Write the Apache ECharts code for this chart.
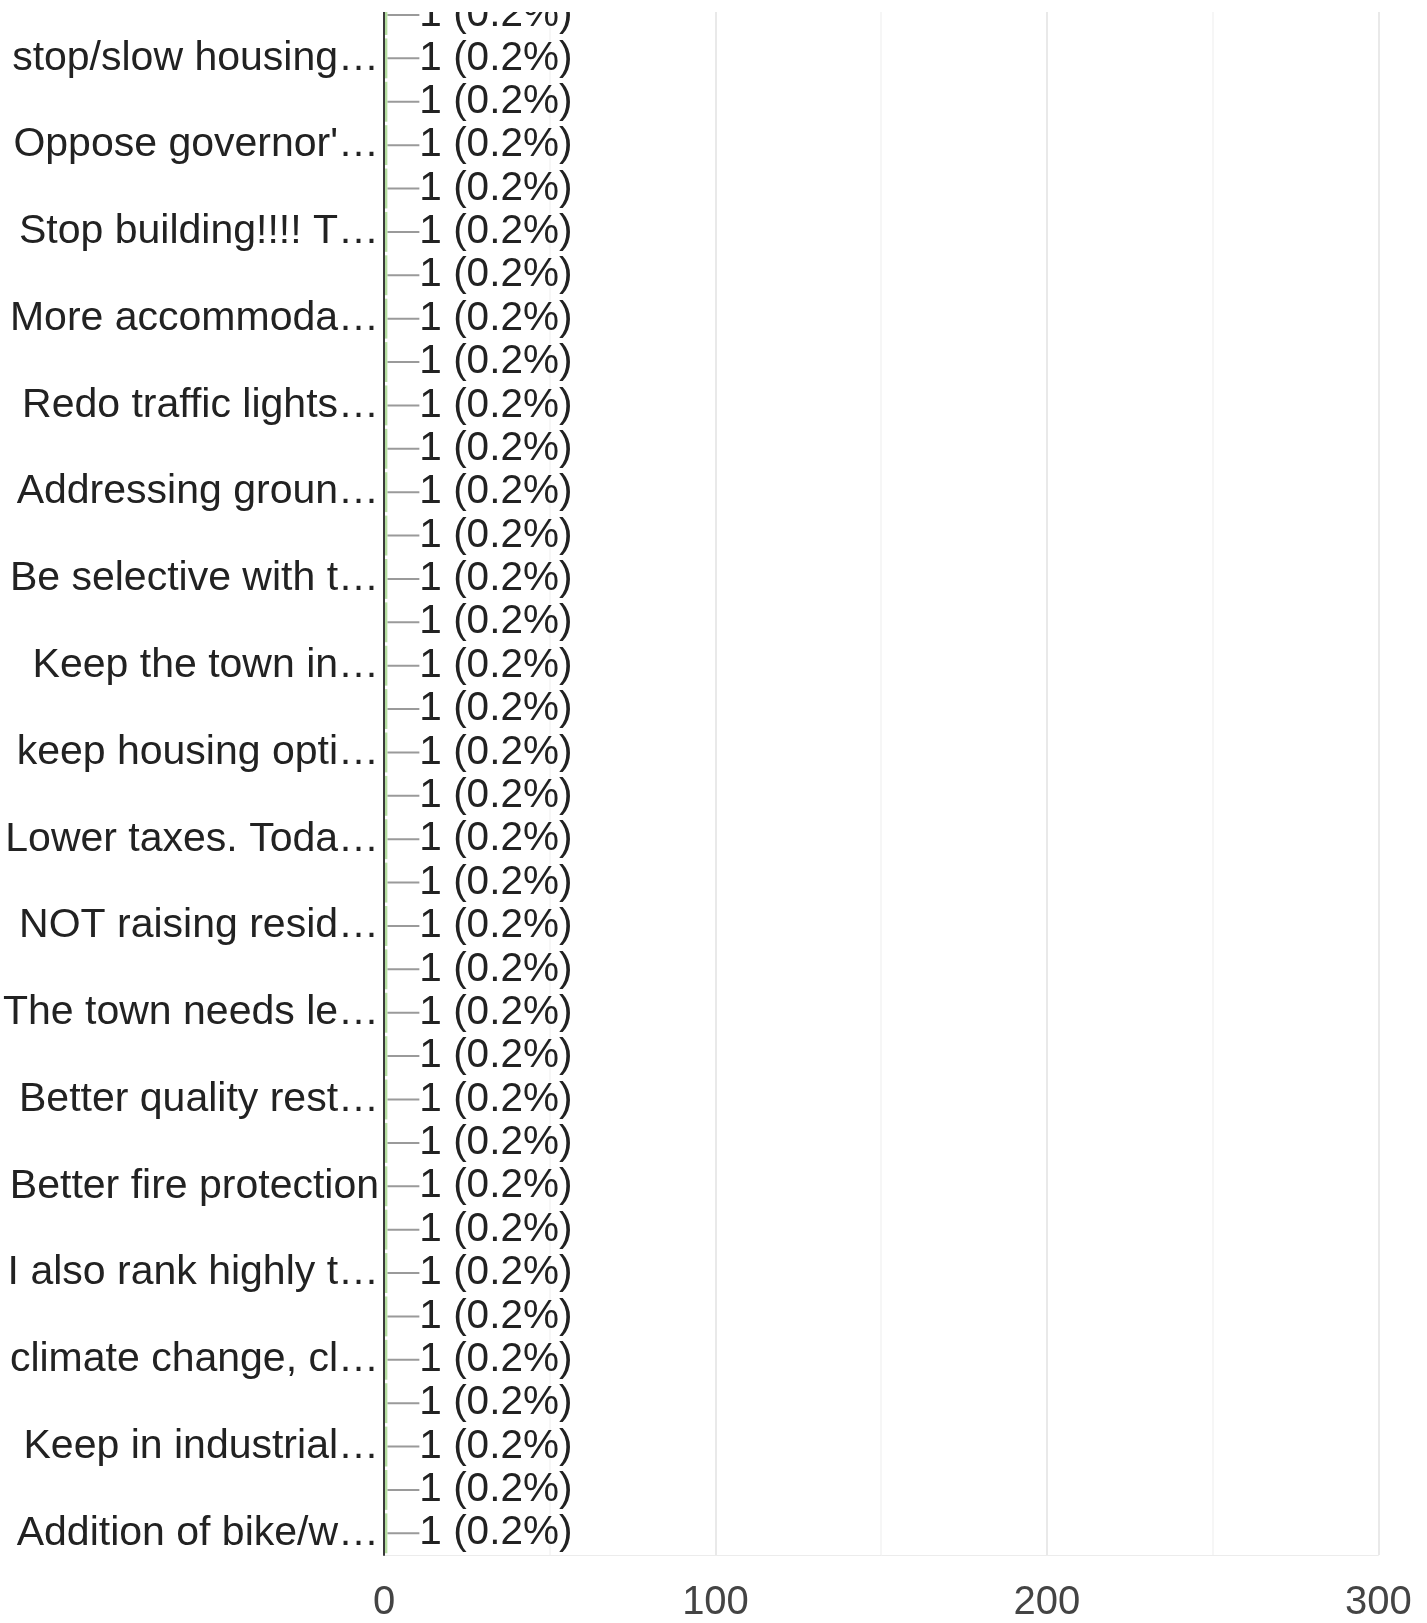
<!DOCTYPE html>
<html>
<head>
<meta charset="utf-8">
<script src="https://cdn.jsdelivr.net/npm/echarts@6/dist/echarts.min.js"></script>
<style>
  html, body { margin: 0; padding: 0; background: #fff; width: 1427px; height: 1623px; overflow: hidden; }
  #clip { position: absolute; left: 0; top: 12px; width: 1427px; height: 1611px; overflow: hidden; }
  #chart { position: absolute; left: 0; top: -30px; width: 1427px; height: 1641px; }
</style>
</head>
<body>
<div id="clip"><div id="chart"></div></div>
<script>
// Rows from top to bottom; only every other label is shown in the reference.
const categories = [
  'row 1', 'stop/slow housing…',
  'row 3', 'Oppose governor\'…',
  'row 5', 'Stop building!!!! T…',
  'row 7', 'More accommoda…',
  'row 9', 'Redo traffic lights…',
  'row 11', 'Addressing groun…',
  'row 13', 'Be selective with t…',
  'row 15', 'Keep the town in…',
  'row 17', 'keep housing opti…',
  'row 19', 'Lower taxes. Toda…',
  'row 21', 'NOT raising resid…',
  'row 23', 'The town needs le…',
  'row 25', 'Better quality rest…',
  'row 27', 'Better fire protection',
  'row 29', 'I also rank highly t…',
  'row 31', 'climate change, cl…',
  'row 33', 'Keep in industrial…',
  'row 35', 'Addition of bike/w…'
];
const counts = [
  1, 1, 1, 1, 1, 1, 1, 1, 1, 1, 1, 1,
  1, 1, 1, 1, 1, 1, 1, 1, 1, 1, 1, 1,
  1, 1, 1, 1, 1, 1, 1, 1, 1, 1, 1, 1
];
const percents = [
  0.2, 0.2, 0.2, 0.2, 0.2, 0.2, 0.2, 0.2, 0.2, 0.2, 0.2, 0.2,
  0.2, 0.2, 0.2, 0.2, 0.2, 0.2, 0.2, 0.2, 0.2, 0.2, 0.2, 0.2,
  0.2, 0.2, 0.2, 0.2, 0.2, 0.2, 0.2, 0.2, 0.2, 0.2, 0.2, 0.2
];
const xTicks = [0, 100, 200, 300];

const FONT = '"Liberation Sans", Arial, sans-serif';
const chart = echarts.init(document.getElementById('chart'), null, { renderer: 'canvas' });
chart.setOption({
  animation: false,
  backgroundColor: '#ffffff',
  grid: { left: 384, right: 48.6, top: 11.3, bottom: 68, containLabel: false },
  xAxis: {
    type: 'value',
    min: 0,
    max: 300,
    interval: 50,
    axisLine: { show: true, lineStyle: { color: '#ececec', width: 1 } },
    axisTick: { show: false },
    splitLine: { show: true, lineStyle: { color: ['#e2e2e2', '#f3f3f3'], width: 1.5 } },
    axisLabel: {
      margin: 28,
      fontSize: 40,
      fontFamily: FONT,
      color: '#444',
      formatter: function (v) { return xTicks.indexOf(v) >= 0 ? String(v) : ''; }
    }
  },
  yAxis: {
    type: 'category',
    inverse: true,
    data: categories,
    axisLine: { show: true, lineStyle: { color: '#3a3a3a', width: 2 } },
    axisTick: { show: false },
    axisLabel: {
      interval: function (i) { return i % 2 === 1; },
      margin: 5,
      fontSize: 41,
      fontFamily: FONT,
      color: '#222'
    },
    z: 5
  },
  series: [{
    type: 'bar',
    data: counts,
    barCategoryGap: '8%',
    itemStyle: { color: '#b5dea0' },
    label: {
      show: true,
      position: 'right',
      distance: 0,
      fontSize: 40.5,
      fontFamily: FONT,
      color: '#222',
      formatter: function (p) { return p.value + ' (' + percents[p.dataIndex] + '%)'; }
    },
    labelLayout: { dx: 32 },
    labelLine: { show: true, lineStyle: { color: '#9a9a9a', width: 2 } }
  }]
});
</script>
</body>
</html>
